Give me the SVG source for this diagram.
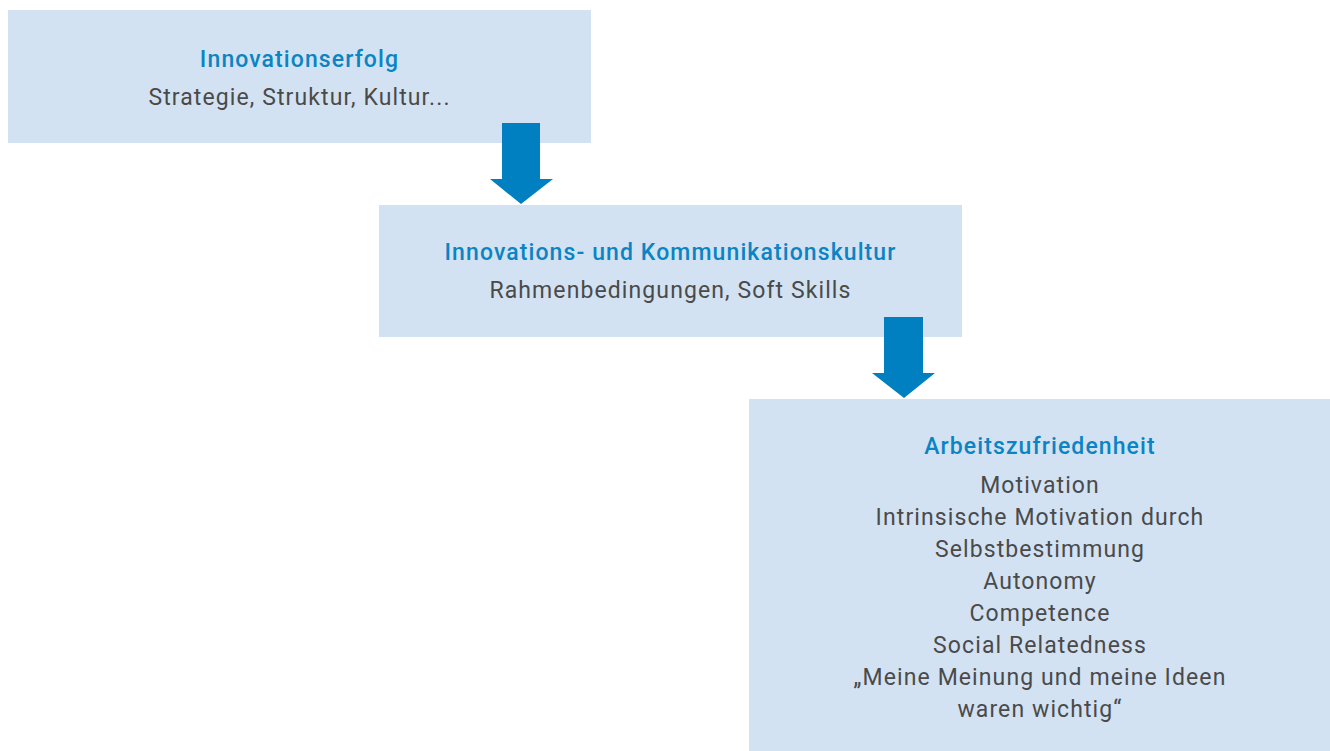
<svg xmlns="http://www.w3.org/2000/svg" width="1330" height="751" viewBox="0 0 1330 751">
<style>
.box{fill:#d3e2f2}
.arrow{fill:#0080c0}
.t{font-family:Roboto,"Liberation Sans",sans-serif;font-size:23px;text-anchor:middle}
.title{fill:#0a84c4;font-weight:500;letter-spacing:1.1px}
.body{fill:#4a4a4a;letter-spacing:1.1px}
</style>
<rect width="1330" height="751" fill="#ffffff"/>
<g id="node1">
<rect class="box" x="8" y="10" width="583" height="133"/>
<text class="t title" x="299.5" y="67">Innovationserfolg</text>
<text class="t body" x="299.5" y="105">Strategie, Struktur, Kultur...</text>
</g>
<g id="node2">
<rect class="box" x="379" y="205" width="583" height="132"/>
<text class="t title" x="670.5" y="260">Innovations- und Kommunikationskultur</text>
<text class="t body" x="670.5" y="298">Rahmenbedingungen, Soft Skills</text>
</g>
<g id="node3">
<rect class="box" x="749" y="399" width="581" height="352"/>
<text class="t title" x="1040" y="454">Arbeitszufriedenheit</text>
<text class="t body" x="1040" y="493">Motivation</text>
<text class="t body" x="1040" y="525">Intrinsische Motivation durch</text>
<text class="t body" x="1040" y="557">Selbstbestimmung</text>
<text class="t body" x="1040" y="589">Autonomy</text>
<text class="t body" x="1040" y="621">Competence</text>
<text class="t body" x="1040" y="653">Social Relatedness</text>
<text class="t body" x="1040" y="685">„Meine Meinung und meine Ideen</text>
<text class="t body" x="1040" y="717">waren wichtig“</text>
</g>
<g id="connectors">
<polygon class="arrow" points="502,123 540,123 540,179 553,179 521,204 490,179 502,179"/>
<polygon class="arrow" points="884,317 923,317 923,373 935,373 904,398 872,373 884,373"/>
</g>
</svg>
